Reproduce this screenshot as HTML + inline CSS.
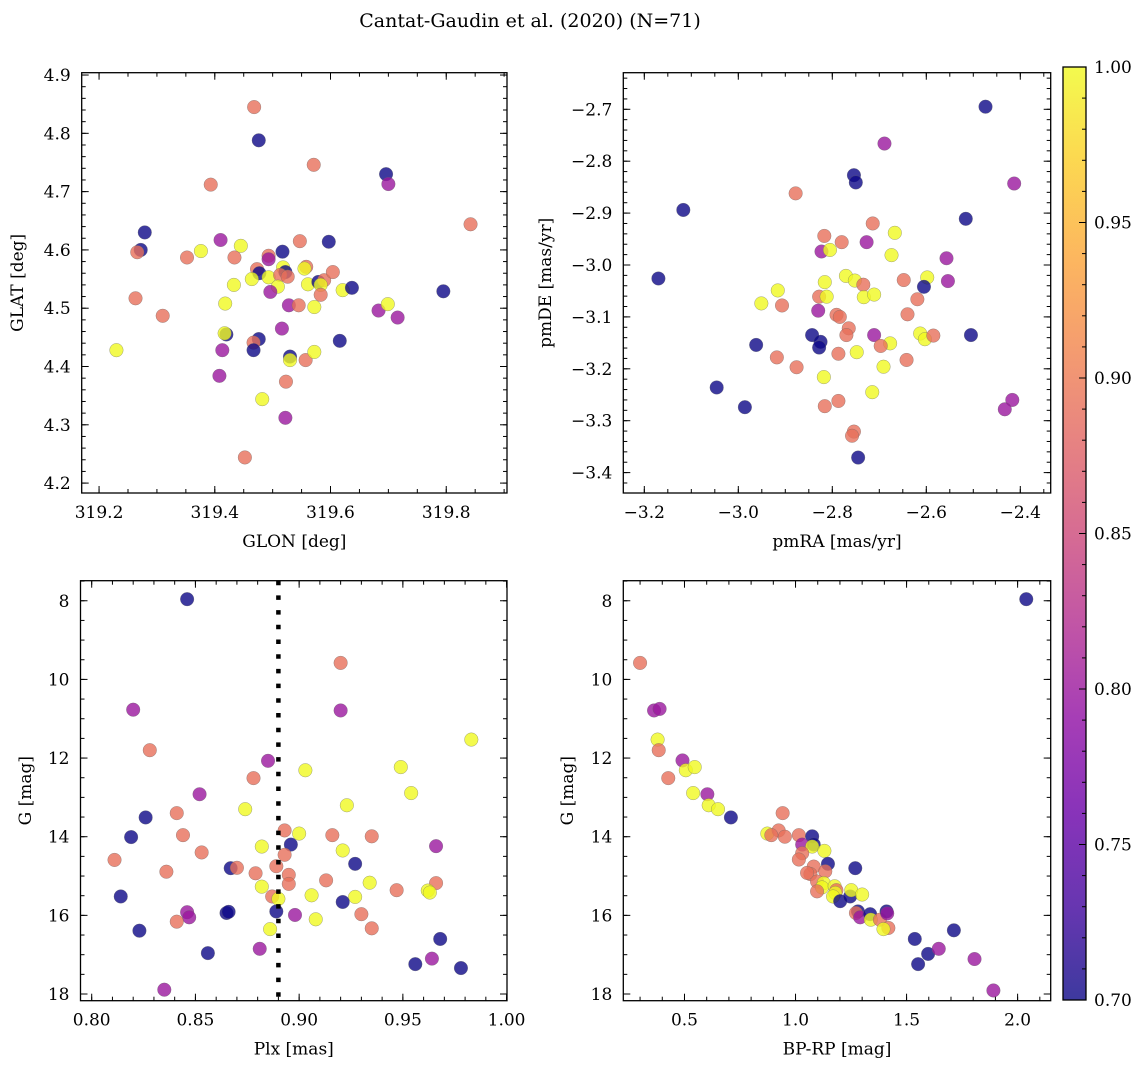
<!DOCTYPE html>
<html><head><meta charset="utf-8"><style>
html,body{margin:0;padding:0;background:#fff;}
svg{display:block;font-family:"DejaVu Serif","Liberation Serif",serif;}
</style></head><body>
<svg id="fig" width="1148" height="1067" viewBox="0 0 1148 1067" xmlns="http://www.w3.org/2000/svg">
<defs>
<linearGradient id="plasma" x1="0" y1="1" x2="0" y2="0">
<stop offset="0" stop-color="#0d0887"/><stop offset="0.1" stop-color="#41049d"/><stop offset="0.2" stop-color="#6a00a8"/><stop offset="0.3" stop-color="#8f0da4"/><stop offset="0.4" stop-color="#b12a90"/><stop offset="0.5" stop-color="#cc4778"/><stop offset="0.6" stop-color="#e16462"/><stop offset="0.7" stop-color="#f2844b"/><stop offset="0.8" stop-color="#fca636"/><stop offset="0.9" stop-color="#fcce25"/><stop offset="1" stop-color="#f0f921"/>
</linearGradient>
</defs>
<text x="530" y="27" font-size="19" text-anchor="middle">Cantat-Gaudin et al. (2020) (N=71)</text>
</svg>
<script>
// Panel 1: GLON / GLAT
const glon=[319.468,319.476,319.571,319.393,319.696,319.700,319.842,319.279,319.272,319.266,319.352,319.376,319.410,319.445,319.434,319.493,319.493,319.517,319.547,319.597,319.473,319.477,319.464,319.493,319.518,319.522,319.513,319.526,319.509,319.496,319.433,319.558,319.555,319.561,319.579,319.589,319.583,319.583,319.604,319.621,319.637,319.795,319.263,319.310,319.418,319.528,319.545,319.572,319.683,319.699,319.716,319.516,319.230,319.420,319.417,319.413,319.476,319.467,319.467,319.616,319.530,319.530,319.557,319.572,319.408,319.523,319.482,319.522,319.452];
const glat=[4.845,4.788,4.746,4.712,4.730,4.713,4.644,4.630,4.600,4.596,4.587,4.598,4.617,4.607,4.587,4.590,4.584,4.597,4.615,4.614,4.567,4.560,4.550,4.553,4.570,4.562,4.557,4.554,4.537,4.528,4.540,4.571,4.568,4.541,4.545,4.548,4.540,4.523,4.562,4.531,4.535,4.529,4.517,4.487,4.508,4.505,4.505,4.502,4.496,4.507,4.484,4.465,4.428,4.455,4.457,4.428,4.447,4.441,4.428,4.444,4.417,4.411,4.411,4.425,4.384,4.374,4.344,4.312,4.244];
const prob1=[0.89,0.70,0.89,0.89,0.70,0.80,0.89,0.70,0.70,0.89,0.89,1.00,0.80,1.00,0.89,0.89,0.80,0.70,0.89,0.70,0.89,0.70,1.00,1.00,1.00,0.70,0.89,0.89,1.00,0.80,1.00,0.89,1.00,1.00,0.70,0.89,1.00,0.89,0.89,1.00,0.70,0.70,0.89,0.89,1.00,0.80,0.89,1.00,0.80,1.00,0.80,0.80,1.00,0.70,1.00,0.80,0.70,0.89,0.70,0.70,0.70,1.00,0.89,1.00,0.80,0.89,1.00,0.80,0.89];
// Panel 2: pmRA / pmDE
const pmra=[-2.474,-2.689,-2.754,-2.750,-2.413,-2.878,-3.117,-2.516,-2.714,-2.667,-2.817,-2.780,-2.727,-2.823,-2.805,-2.674,-2.557,-3.170,-2.771,-2.752,-2.734,-2.816,-2.648,-2.598,-2.605,-2.554,-2.916,-2.951,-2.907,-2.828,-2.812,-2.733,-2.711,-2.619,-2.830,-2.791,-2.784,-2.640,-2.843,-2.825,-2.828,-2.962,-2.765,-2.770,-2.711,-2.677,-2.697,-2.613,-2.603,-2.585,-2.505,-2.918,-2.787,-2.748,-2.642,-2.876,-2.691,-2.818,-3.046,-2.715,-2.986,-2.816,-2.787,-2.417,-2.433,-2.754,-2.758,-2.745];
const pmde=[-2.695,-2.766,-2.827,-2.841,-2.843,-2.862,-2.894,-2.911,-2.920,-2.938,-2.944,-2.956,-2.956,-2.974,-2.971,-2.981,-2.987,-3.026,-3.021,-3.030,-3.038,-3.033,-3.029,-3.024,-3.042,-3.031,-3.049,-3.074,-3.078,-3.061,-3.061,-3.062,-3.057,-3.066,-3.088,-3.096,-3.100,-3.095,-3.135,-3.148,-3.159,-3.154,-3.122,-3.135,-3.135,-3.151,-3.156,-3.132,-3.143,-3.136,-3.135,-3.178,-3.171,-3.168,-3.183,-3.197,-3.196,-3.216,-3.236,-3.245,-3.274,-3.272,-3.262,-3.260,-3.278,-3.321,-3.329,-3.371];
const prob2=[0.70,0.80,0.70,0.70,0.80,0.89,0.70,0.70,0.89,1.00,0.89,0.89,0.80,0.80,1.00,1.00,0.80,0.70,1.00,1.00,0.89,1.00,0.89,1.00,0.70,0.80,1.00,1.00,0.89,0.89,1.00,1.00,1.00,0.89,0.80,0.89,0.89,0.89,0.70,0.70,0.70,0.70,0.89,0.89,0.80,1.00,0.89,1.00,1.00,0.89,0.70,0.89,0.89,1.00,0.89,0.89,1.00,1.00,0.70,1.00,0.70,0.89,0.89,0.80,0.80,0.89,0.89,0.70];
// Panel 3: Plx / G
const plx=[0.846,0.920,0.820,0.920,0.983,0.828,0.885,0.903,0.949,0.878,0.852,0.954,0.874,0.923,0.826,0.841,0.819,0.844,0.893,0.900,0.916,0.935,0.966,0.882,0.896,0.921,0.811,0.853,0.893,0.927,0.836,0.867,0.870,0.889,0.879,0.895,0.895,0.913,0.934,0.966,0.882,0.947,0.962,0.963,0.814,0.887,0.890,0.906,0.927,0.921,0.889,0.865,0.866,0.846,0.847,0.898,0.930,0.908,0.841,0.935,0.886,0.823,0.968,0.881,0.856,0.964,0.956,0.978,0.835];
const g3=[7.96,9.58,10.77,10.79,11.53,11.80,12.07,12.31,12.23,12.51,12.92,12.89,13.30,13.20,13.51,13.40,14.01,13.96,13.84,13.92,13.96,13.99,14.24,14.25,14.20,14.35,14.59,14.40,14.46,14.69,14.89,14.80,14.79,14.75,14.93,14.97,15.20,15.11,15.17,15.18,15.27,15.36,15.37,15.42,15.52,15.52,15.58,15.49,15.53,15.66,15.90,15.94,15.91,15.92,16.05,15.99,15.97,16.10,16.16,16.33,16.35,16.39,16.60,16.85,16.96,17.10,17.24,17.34,17.89];
const prob3=[0.70,0.89,0.80,0.80,1.00,0.89,0.80,1.00,1.00,0.89,0.80,1.00,1.00,1.00,0.70,0.89,0.70,0.89,0.89,1.00,0.89,0.89,0.80,1.00,0.70,1.00,0.89,0.89,0.89,0.70,0.89,0.70,0.89,0.89,0.89,0.89,0.89,0.89,1.00,0.89,1.00,0.89,1.00,1.00,0.70,0.89,1.00,1.00,1.00,0.70,0.70,0.70,0.70,0.80,0.80,0.80,0.89,1.00,0.89,0.89,1.00,0.70,0.70,0.80,0.70,0.80,0.70,0.70,0.80];
const plxRef=[0.890];
// Panel 4: BP-RP / G
const bprp=[2.039,0.300,0.363,0.388,0.379,0.384,0.491,0.506,0.546,0.427,0.603,0.539,0.609,0.651,0.709,0.942,0.873,0.924,0.891,0.952,1.015,1.075,1.030,1.082,1.075,1.130,1.030,1.015,1.146,1.269,1.082,1.067,1.134,1.097,1.127,1.119,1.176,1.184,1.179,1.169,1.201,1.246,1.251,1.300,1.281,1.272,1.291,1.336,1.339,1.380,1.410,1.413,1.418,1.396,1.537,1.713,1.597,1.552,1.645,1.806,1.891,1.097,1.052];
const g4=[7.96,9.58,10.79,10.75,11.53,11.80,12.06,12.31,12.23,12.51,12.92,12.89,13.20,13.30,13.51,13.40,13.92,13.84,13.96,14.00,13.96,13.99,14.20,14.20,14.25,14.36,14.42,14.58,14.69,14.80,14.76,14.95,14.88,15.14,15.18,15.29,15.26,15.36,15.43,15.52,15.64,15.52,15.36,15.47,15.90,15.94,16.05,15.97,16.11,16.11,15.90,15.95,16.32,16.35,16.60,16.38,16.98,17.24,16.85,17.11,17.91,15.39,14.92];
const prob4=[0.70,0.89,0.80,0.80,1.00,0.89,0.80,1.00,1.00,0.89,0.80,1.00,1.00,1.00,0.70,0.89,1.00,0.89,0.89,0.89,0.89,0.70,0.80,0.70,1.00,1.00,0.89,0.89,0.70,0.70,0.89,0.89,0.89,0.89,1.00,1.00,1.00,0.89,1.00,1.00,0.70,0.70,1.00,1.00,0.70,0.89,0.80,0.70,1.00,0.89,0.70,0.80,0.89,1.00,0.70,0.70,0.70,0.70,0.80,0.80,0.80,0.89,0.89];
// tick labels
const t1x=[319.2,319.4,319.6,319.8], t1y=[4.2,4.3,4.4,4.5,4.6,4.7,4.8,4.9];
const t2x=[-3.2,-3.0,-2.8,-2.6,-2.4], t2y=[-3.4,-3.3,-3.2,-3.1,-3.0,-2.9,-2.8,-2.7];
const t3x=[0.80,0.85,0.90,0.95,1.00], tGy=[8,10,12,14,16,18];
const t4x=[0.5,1.0,1.5,2.0];
const tcb=[0.70,0.75,0.80,0.85,0.90,0.95,1.00];

const NS="http://www.w3.org/2000/svg";
const svg=document.getElementById('fig');
function mk(tag,attrs,parent){const e=document.createElementNS(NS,tag);for(const k in attrs)e.setAttribute(k,attrs[k]);(parent||svg).appendChild(e);return e;}
const stops=[[13,8,135],[65,4,157],[106,0,168],[143,13,164],[177,42,144],[204,71,120],[225,100,98],[242,132,75],[252,166,54],[252,206,37],[240,249,33]];
function plasma(v){let t=Math.max(0,Math.min(1,(v-0.7)/0.3))*10;const i=Math.min(9,Math.floor(t)),f=t-i;const a=stops[i],b=stops[i+1];return 'rgb('+a.map((c,k)=>Math.round(c+(b[k]-c)*f)).join(',')+')';}
function fmt(v,d){return (v<0?'\u2212':'')+Math.abs(v).toFixed(d);}

function panel(o){
  const g=mk('g',{});
  
  
  const sx=v=>o.px0+(v-o.xmin)/(o.xmax-o.xmin)*(o.px1-o.px0);
  const sy=v=>o.py1-(v-o.ybot)/(o.ytop-o.ybot)*(o.py1-o.py0);
  const pg=mk('g',{},g);
  
  
  for(let i=0;i<Math.min(o.xs.length,o.ys.length,o.ps.length);i++){
    const c=mk('circle',{cx:sx(o.xs[i]),cy:sy(o.ys[i]),r:6.8,fill:plasma(o.ps[i]),'fill-opacity':0.8,stroke:'#666','stroke-width':0.5,'stroke-opacity':0.6},pg);
    
    
  }
  if(o.vline){
    const l=mk('line',{x1:sx(o.vline[0]),x2:sx(o.vline[0]),y1:o.py0,y2:o.py1,stroke:'#000','stroke-width':4.5,'stroke-dasharray':'4.5 10.2'},g);
    
    
  }
  const fr=mk('rect',{x:o.px0,y:o.py0,width:o.px1-o.px0,height:o.py1-o.py0,fill:'none',stroke:'#000','stroke-width':1.3},g);
  
  
  const tk=mk('g',{stroke:'#000','stroke-width':1},g);
  
  
  const eps=1e-9;
  function xt(step,len){const s=Math.ceil(o.xmin/step-eps);for(let k=s;k*step<=o.xmax+eps;k++){const x=sx(k*step);mk('line',{x1:x,x2:x,y1:o.py1,y2:o.py1-len},tk);mk('line',{x1:x,x2:x,y1:o.py0,y2:o.py0+len},tk);}}
  function yt(step,len){const lo=Math.min(o.ybot,o.ytop),hi=Math.max(o.ybot,o.ytop);const s=Math.ceil(lo/step-eps);for(let k=s;k*step<=hi+eps;k++){const y=sy(k*step);mk('line',{x1:o.px0,x2:o.px0+len,y1:y,y2:y},tk);mk('line',{x1:o.px1,x2:o.px1-len,y1:y,y2:y},tk);}}
  xt(o.xmaj,7);xt(o.xmin_,4);yt(o.ymaj,7);yt(o.ymin_,4);
  o.xt.forEach(v=>{const t=mk('text',{x:sx(v),y:o.py1+25,'font-size':17,'text-anchor':'middle'},g);t.textContent=fmt(v,o.xd);});
  o.yt.forEach(v=>{const t=mk('text',{x:o.px0-11,y:sy(v)+6,'font-size':17,'text-anchor':'end'},g);t.textContent=fmt(v,o.yd);});
  const xl=mk('text',{x:(o.px0+o.px1)/2,y:o.py1+54,'font-size':17,'text-anchor':'middle'},g);xl.textContent=o.xlabel;
  
  
  const yl=mk('text',{x:0,y:0,'font-size':17,'text-anchor':'middle',transform:'translate('+o.ylx+','+((o.py0+o.py1)/2)+') rotate(-90)'},g);yl.textContent=o.ylabel;
  
  
}

panel({name:'glon-glat-panel',px0:81.7,px1:507,py0:72.7,py1:493,xmin:319.170,xmax:319.905,ybot:4.183,ytop:4.904,xs:glon,ys:glat,ps:prob1,xmaj:0.2,xmin_:0.05,ymaj:0.1,ymin_:0.02,xt:t1x,yt:t1y,xd:1,yd:1,xlabel:'GLON [deg]',ylabel:'GLAT [deg]',ylx:23});
panel({name:'proper-motion-panel',px0:623.3,px1:1050.7,py0:72.7,py1:493,xmin:-3.2447,xmax:-2.3353,ybot:-3.4393,ytop:-2.6295,xs:pmra,ys:pmde,ps:prob2,xmaj:0.2,xmin_:0.05,ymaj:0.1,ymin_:0.02,xt:t2x,yt:t2y,xd:1,yd:1,xlabel:'pmRA [mas/yr]',ylabel:'pmDE [mas/yr]',ylx:551});
panel({name:'parallax-magnitude-panel',px0:80.5,px1:507,py0:580.7,py1:1000.7,xmin:0.7946,xmax:1.0002,ybot:18.17,ytop:7.49,xs:plx,ys:g3,ps:prob3,vline:plxRef,xmaj:0.05,xmin_:0.01,ymaj:2,ymin_:0.5,xt:t3x,yt:tGy,xd:2,yd:0,xlabel:'Plx [mas]',ylabel:'G [mag]',ylx:31});
panel({name:'color-magnitude-panel',px0:623.3,px1:1050.7,py0:580.7,py1:1000.7,xmin:0.2245,xmax:2.149,ybot:18.17,ytop:7.49,xs:bprp,ys:g4,ps:prob4,xmaj:0.5,xmin_:0.1,ymaj:2,ymin_:0.5,xt:t4x,yt:tGy,xd:1,yd:0,xlabel:'BP-RP [mag]',ylabel:'G [mag]',ylx:573});

const cb=mk('g',{});


const cby0=67,cby1=1000,cbx0=1063,cbx1=1086;
mk('rect',{x:cbx0,y:cby0,width:cbx1-cbx0,height:cby1-cby0,fill:'url(#plasma)','fill-opacity':0.8},cb);
mk('rect',{x:cbx0,y:cby0,width:cbx1-cbx0,height:cby1-cby0,fill:'none',stroke:'#000','stroke-width':1.3},cb);
const cy=v=>cby1-(v-0.7)/0.3*(cby1-cby0);
for(let k=70;k<=100;k++){const y=cy(k/100);const len=(k%5===0)?7:4;mk('line',{x1:cbx1,x2:cbx1-len,y1:y,y2:y,stroke:'#000','stroke-width':1},cb);}
tcb.forEach(v=>{const t=mk('text',{x:1094,y:cy(v)+6,'font-size':17},cb);t.textContent=v.toFixed(2);});
</script>
</body></html>
